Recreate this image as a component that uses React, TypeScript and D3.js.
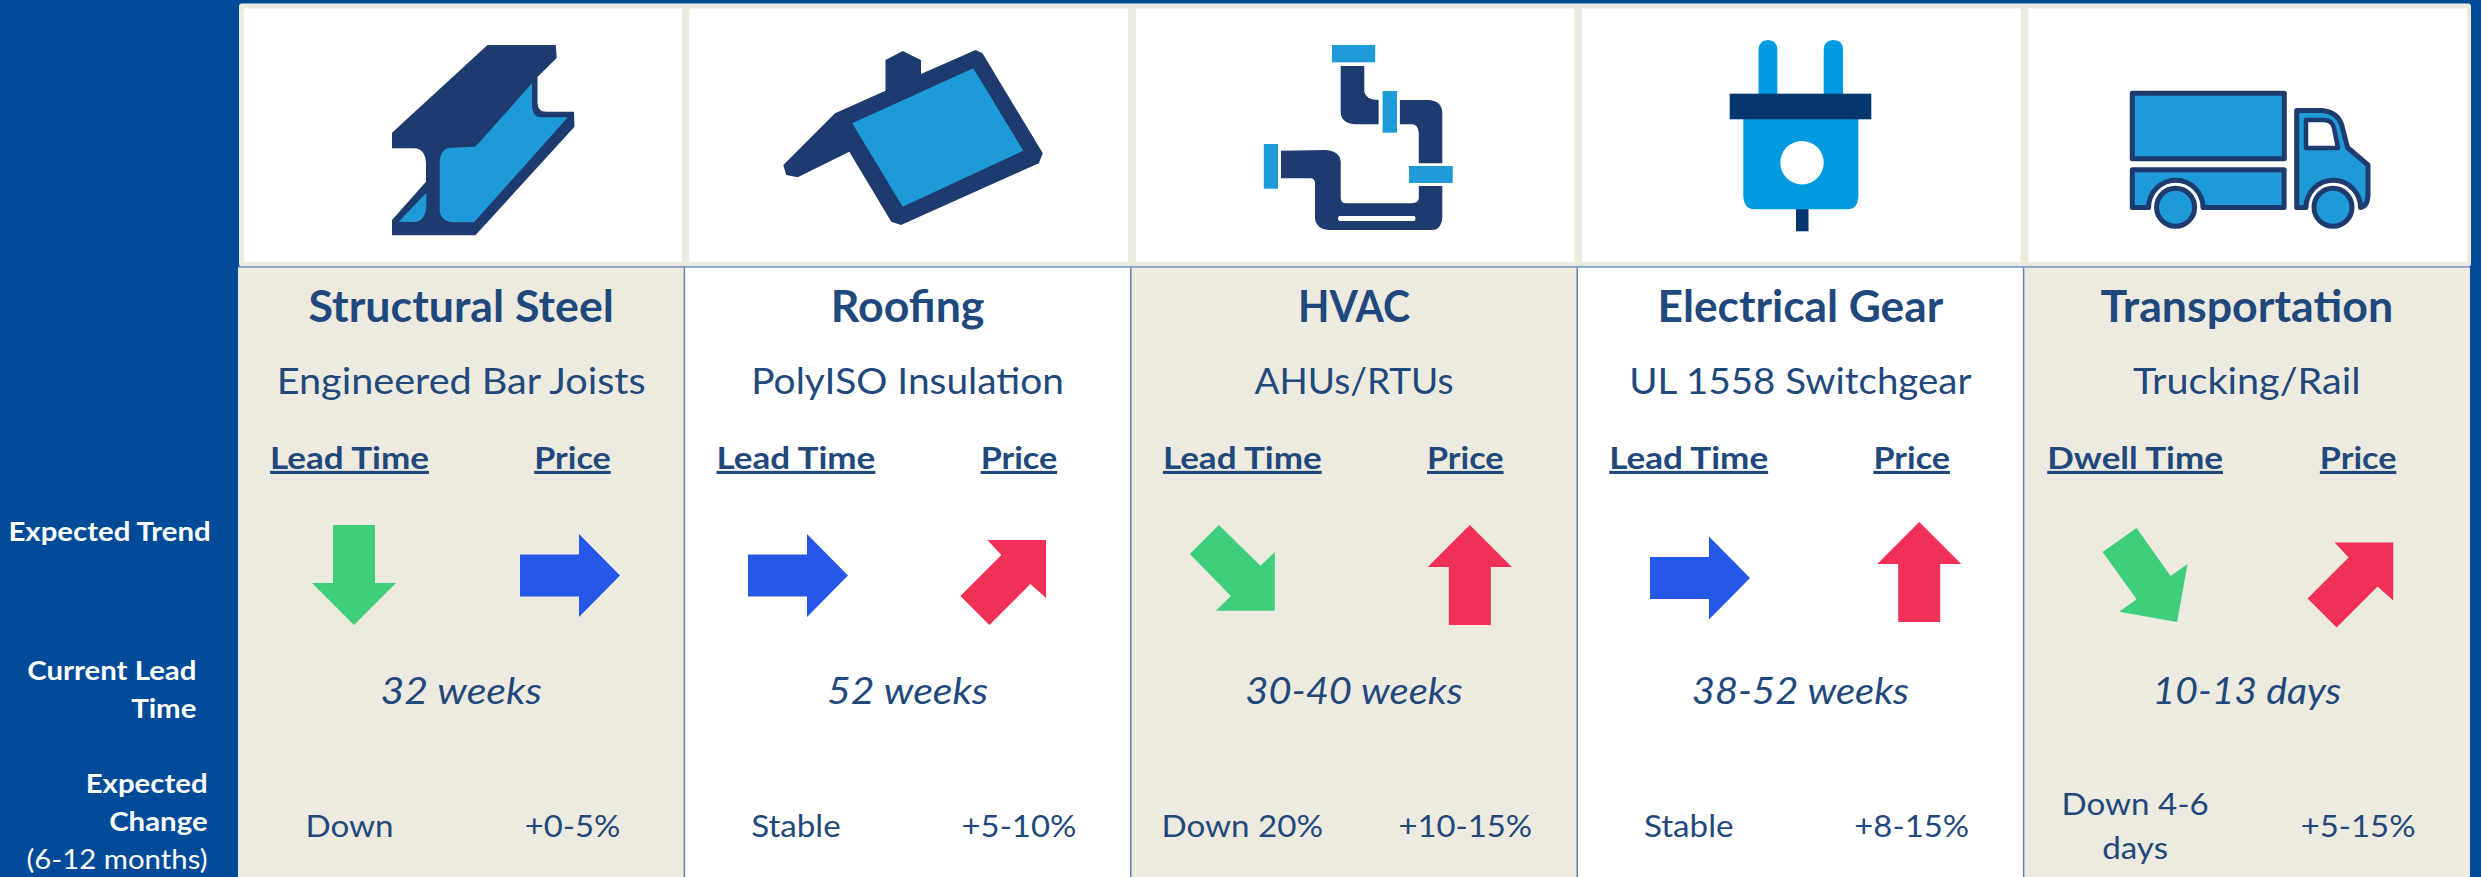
import React from "react";
import * as d3 from "d3";

const WIDTH = 2481;
const HEIGHT = 877;

const categories = ["Structural Steel", "Roofing", "HVAC", "Electrical Gear", "Transportation"];
const subtitles = ["Engineered Bar Joists", "PolyISO Insulation", "AHUs/RTUs", "UL 1558 Switchgear", "Trucking/Rail"];
const leadHeaders = ["Lead Time", "Lead Time", "Lead Time", "Lead Time", "Dwell Time"];
const leadTrends = ["down", "flat", "downRight", "flat", "downRightSteep"];
const priceTrends = ["flat", "upRight", "up", "up", "upRight"];
const currentLeadTimes = ["32 weeks", "52 weeks", "30-40 weeks", "38-52 weeks", "10-13 days"];
const leadChanges = [["Down"], ["Stable"], ["Down 20%"], ["Stable"], ["Down 4-6", "days"]];
const priceChanges = ["+0-5%", "+5-10%", "+10-15%", "+8-15%", "+5-15%"];

const NAVY = "#1F497D";
const ICON_DARK = "#1D3B6E";
const ICON_LIGHT = "#1F9AD8";
const PLUG_LIGHT = "#009ADF";
const PLUG_DARK = "#03376D";
const BG = "#004B97";
const BEIGE = "#EDEBE0";
const RULE = "#5F82B4";
const FONT = "Lato, 'Noto Sans', sans-serif";

const trendColor = d3.scaleOrdinal<string, string>()
  .domain(["down", "downRight", "downRightSteep", "flat", "up", "upRight"])
  .range(["#3ECE7C", "#3ECE7C", "#3ECE7C", "#2658E8", "#F03056", "#F03056"]);

// arrow outlines around their own centre
const arrowShapes: Record<string, [number, number][]> = {
  down: [[-21, -50], [21, -50], [21, 8], [42, 8], [0, 50], [-42, 8], [-21, 8]],
  up: [[0, -50], [42, -8], [21, -8], [21, 50], [-21, 50], [-21, -8], [-42, -8]],
  flat: [[-50, -21], [9, -21], [9, -41.5], [50, 0], [9, 41.5], [9, 21], [-50, 21]],
  upRight: [[-16, -42], [42.6, -42], [42.6, 16], [27, 2], [-14, 43], [-43, 14], [-2, -27]],
  downRight: [[-13, -43], [28.7, -2.3], [43, -16], [43, 42.7], [-16, 42.7], [-1, 28], [-42, -14]],
  downRightSteep: [[-9, -47], [25, 1], [42, -11], [31.5, 47], [-26.4, 36.7], [-9, 24.3], [-43, -23]],
};

// arrow centres don't sit on the text columns in the slide, so they get their own offsets
const leadArrowX = [116, 113.6, 101, 122.8, 122];
const priceArrowX = [332, 319, 339, 342, 327];
const leadArrowY = [575, 575.5, 568, 578, 575];
const priceArrowY = [575.5, 582, 575, 572, 584.5];

// Lato is not the slide's font, so text is stretched per column to the original widths
const titleStretch = [1.04, 1.04, 0.95, 1.03, 1.04];
const subtitleStretch = [1.07, 1.05, 1.0, 1.04, 1.07];
const leadTimeStretch = [1.11, 1.11, 1.08, 1.08, 1.06];

const xBand = d3.scaleBand<string>().domain(categories).range([238, 2470]);
const xSub = d3.scalePoint<string>().domain(["lead", "price"]).range([111.5, 334.5]);
const arrowLine = d3.line();

const Label = ({ x, y, size, weight = 400, italic = false, anchor = "middle", fill = NAVY, sx = 1, underline = false, children }: any) => (
  <text
    transform={`translate(${x},${y}) scale(${sx},1)`}
    textAnchor={anchor}
    fontFamily={FONT}
    fontSize={size}
    fontWeight={weight}
    fontStyle={italic ? "italic" : "normal"}
    fill={fill}
    style={underline ? { textDecoration: "underline", textDecorationThickness: "3px", textUnderlineOffset: "5px" } : undefined}
  >
    {children}
  </text>
);

const SteelIcon = () => (
  <g>
    <path fill={ICON_DARK} d="M487.5,45 L555.8,45 L556.7,58 L537.5,77 L537.5,103 Q538,111.7 546,111.7 L574,111.7 L574.5,126.7 L475.4,235.3 L392,235.3 L392,220 L426,181.7 L426,163 Q425,148.3 414,148.3 L392,148.3 L392,132.7 Z" />
    <path fill={ICON_LIGHT} d="M532,83.3 L532,106.7 Q533,117.3 541,117.3 L567.9,117.3 L474,222.3 L453,222.3 Q440,221 439.7,210 L439.7,163 Q440,148 451,147.7 L475.4,146.7 Z" />
    <path fill={ICON_LIGHT} d="M426.3,192.7 L426.3,206.7 Q425,221 415,222 L398.7,221.7 Z" />
  </g>
);

const RoofIcon = () => (
  <g>
    <path fill={ICON_DARK} d="M975.6,50 L982.5,53.3 L1042.8,153.3 L1038.8,163.3 L901,225 L891.3,221.7 L849.3,151.7 L797.7,177.3 L786.2,175 L783.3,165 L835,113.3 L885.5,90.7 L885.5,60 L902.7,51 L921,60 L921,74 Z" />
    <path fill={ICON_LIGHT} d="M973.3,68.3 L1023.3,150.7 L902.7,206.7 L852.2,123.3 Z" />
  </g>
);

const PipeIcon = () => (
  <g>
    <g fill={ICON_DARK}>
      <path d="M1340.7,66 L1364.3,66 L1364.3,91.7 Q1366,100 1378.6,100 L1378.6,124.3 L1354.5,124.3 Q1341,123 1340.7,112 Z" />
      <path d="M1399.9,100 L1429,100 Q1442,101 1442.3,113 L1442.3,163.3 L1418.8,163.3 L1418.8,133 Q1418,124.3 1412,124.3 L1399.9,124.3 Z" />
      <path fillRule="evenodd" d="M1281,150.7 L1325.8,150 Q1340,151 1340.7,162 L1340.7,198.3 Q1341,203.3 1346,203.3 L1412,203.3 Q1418.8,203 1418.8,198 L1418.8,186 L1442.3,186 L1442.3,218 Q1441,230 1432,230 L1328.6,230 Q1316,229 1315,218 L1315,183.3 Q1315,178.3 1310.3,178.3 L1281,178.3 Z M1339,216 L1414.5,216 Q1416.5,218.5 1414.5,221 L1339,221 Q1337,218.5 1339,216 Z" />
    </g>
    <g fill={ICON_LIGHT}>
      <rect x={1332} y={45} width={43.2} height={17.3} />
      <rect x={1382.6} y={91} width={14.4} height={41.7} />
      <rect x={1263.8} y={144} width={14.2} height={44.7} />
      <rect x={1409} y={166} width={43.7} height={17} />
    </g>
  </g>
);

const PlugIcon = () => (
  <g>
    <path fill={PLUG_LIGHT} d="M1758.5,94 L1758.5,50 Q1759,40 1767.9,40 Q1777,40 1777.3,50 L1777.3,94 Z" />
    <path fill={PLUG_LIGHT} d="M1823.7,94 L1823.7,50 Q1824,40 1833.3,40 Q1843,40 1843,50 L1843,94 Z" />
    <rect x={1796} y={205} width={12.5} height={26.3} fill={PLUG_DARK} />
    <path fill={PLUG_LIGHT} d="M1743.3,115 L1858.4,115 L1858.4,196 Q1858,209.3 1847,209.3 L1754,209.3 Q1744,209 1743.3,196 Z" />
    <rect x={1729.7} y={93.7} width={141.6} height={25.6} fill={PLUG_DARK} />
    <circle cx={1802} cy={162.7} r={21.7} fill="#fff" />
  </g>
);

const TruckIcon = () => (
  <g stroke={ICON_DARK} strokeWidth={5} strokeLinejoin="round" fill={ICON_LIGHT}>
    <rect x={2132.3} y={93.2} width={152} height={65.6} />
    <path d="M2132.3,169.8 L2284.1,169.8 L2284.1,207.5 L2203,207.5 A27.2,27.2 0 0 0 2148.6,207.5 L2132.3,207.5 Z" />
    <path d="M2296.7,110.5 L2322,110.5 Q2338,112 2342,126 L2347.5,147.5 L2368,165 L2368,194 Q2368,206 2360.5,207.5 A27.2,27.2 0 0 0 2306,207.5 L2296.7,207.5 Z" />
    <path fill="#fff" strokeWidth={4.5} d="M2306,120 L2324,120 Q2332,120 2334,128 L2338,148 L2306,148 Z" />
    <circle cx={2175.6} cy={207.3} r={19} />
    <circle cx={2333} cy={207.3} r={19} />
  </g>
);

const icons = [SteelIcon, RoofIcon, PipeIcon, PlugIcon, TruckIcon];

const App = () => {
  const colW = xBand.step();

  return (
    <svg width={WIDTH} height={HEIGHT} viewBox={`0 0 ${WIDTH} ${HEIGHT}`} style={{ position: "absolute", left: 0, top: 0, display: "block" }}>
      <rect width={WIDTH} height={HEIGHT} fill={BG} />

      {/* body columns */}
      {categories.map((c, i) => (
        <rect key={c} x={xBand(c)} y={267} width={colW} height={HEIGHT - 267} fill={i % 2 === 0 ? BEIGE : "#fff"} />
      ))}
      {d3.range(1, 5).map(i => (
        <line key={i} x1={238 + i * colW} x2={238 + i * colW} y1={267} y2={HEIGHT} stroke={RULE} strokeWidth={1.5} />
      ))}

      {/* icon strip */}
      <rect x={239} y={3.5} width={2232} height={263} rx={3} fill={BEIGE} />
      <line x1={238} x2={2470} y1={267} y2={267} stroke="#7FA0C8" strokeWidth={1.5} />
      {categories.map((c, i) => (
        <rect key={c} x={xBand(c)! + (i === 0 ? 6 : 5)} y={8.5} width={i === 0 ? 438 : 438.5} height={253.5} fill="#fff" />
      ))}
      {icons.map((Icon, i) => <Icon key={i} />)}

      {/* row labels */}
      <Label x={210.7} y={541} size={26} weight={700} anchor="end" fill="#fff" sx={1.13}>Expected Trend</Label>
      <Label x={196.4} y={680} size={26} weight={700} anchor="end" fill="#fff" sx={1.13}>Current Lead</Label>
      <Label x={196.4} y={717.5} size={26} weight={700} anchor="end" fill="#fff" sx={1.13}>Time</Label>
      <Label x={207.6} y={793} size={26} weight={700} anchor="end" fill="#fff" sx={1.13}>Expected</Label>
      <Label x={207.6} y={831} size={26} weight={700} anchor="end" fill="#fff" sx={1.13}>Change</Label>
      <Label x={207.6} y={869} size={26} anchor="end" fill="#fff" sx={1.13}>(6-12 months)</Label>

      {categories.map((c, i) => {
        const left = xBand(c)!;
        const mid = left + colW / 2;
        const leadX = left + xSub("lead")!;
        const priceX = left + xSub("price")!;
        return (
          <g key={c}>
            <Label x={mid} y={322.3} size={43} weight={700} sx={titleStretch[i]}>{c}</Label>
            <Label x={mid} y={394} size={37} sx={subtitleStretch[i]}>{subtitles[i]}</Label>
            <Label x={leadX} y={469} size={31} weight={700} sx={1.13} underline>{leadHeaders[i]}</Label>
            <Label x={priceX} y={469} size={31} weight={700} sx={1.1} underline>Price</Label>

            <path transform={`translate(${left + leadArrowX[i]},${leadArrowY[i]})`} d={arrowLine(arrowShapes[leadTrends[i]]) + "Z"} fill={trendColor(leadTrends[i])} />
            <path transform={`translate(${left + priceArrowX[i]},${priceArrowY[i]})`} d={arrowLine(arrowShapes[priceTrends[i]]) + "Z"} fill={trendColor(priceTrends[i])} />

            <Label x={mid} y={704} size={37} italic sx={leadTimeStretch[i]}>{currentLeadTimes[i]}</Label>

            {leadChanges[i].map((line, k) => (
              <Label key={k} x={leadX} y={leadChanges[i].length > 1 ? 815 + k * 44.3 : 837.3} size={31} sx={1.07}>{line}</Label>
            ))}
            <Label x={priceX} y={837.3} size={31} sx={1.06}>{priceChanges[i]}</Label>
          </g>
        );
      })}
    </svg>
  );
};

export default App;
